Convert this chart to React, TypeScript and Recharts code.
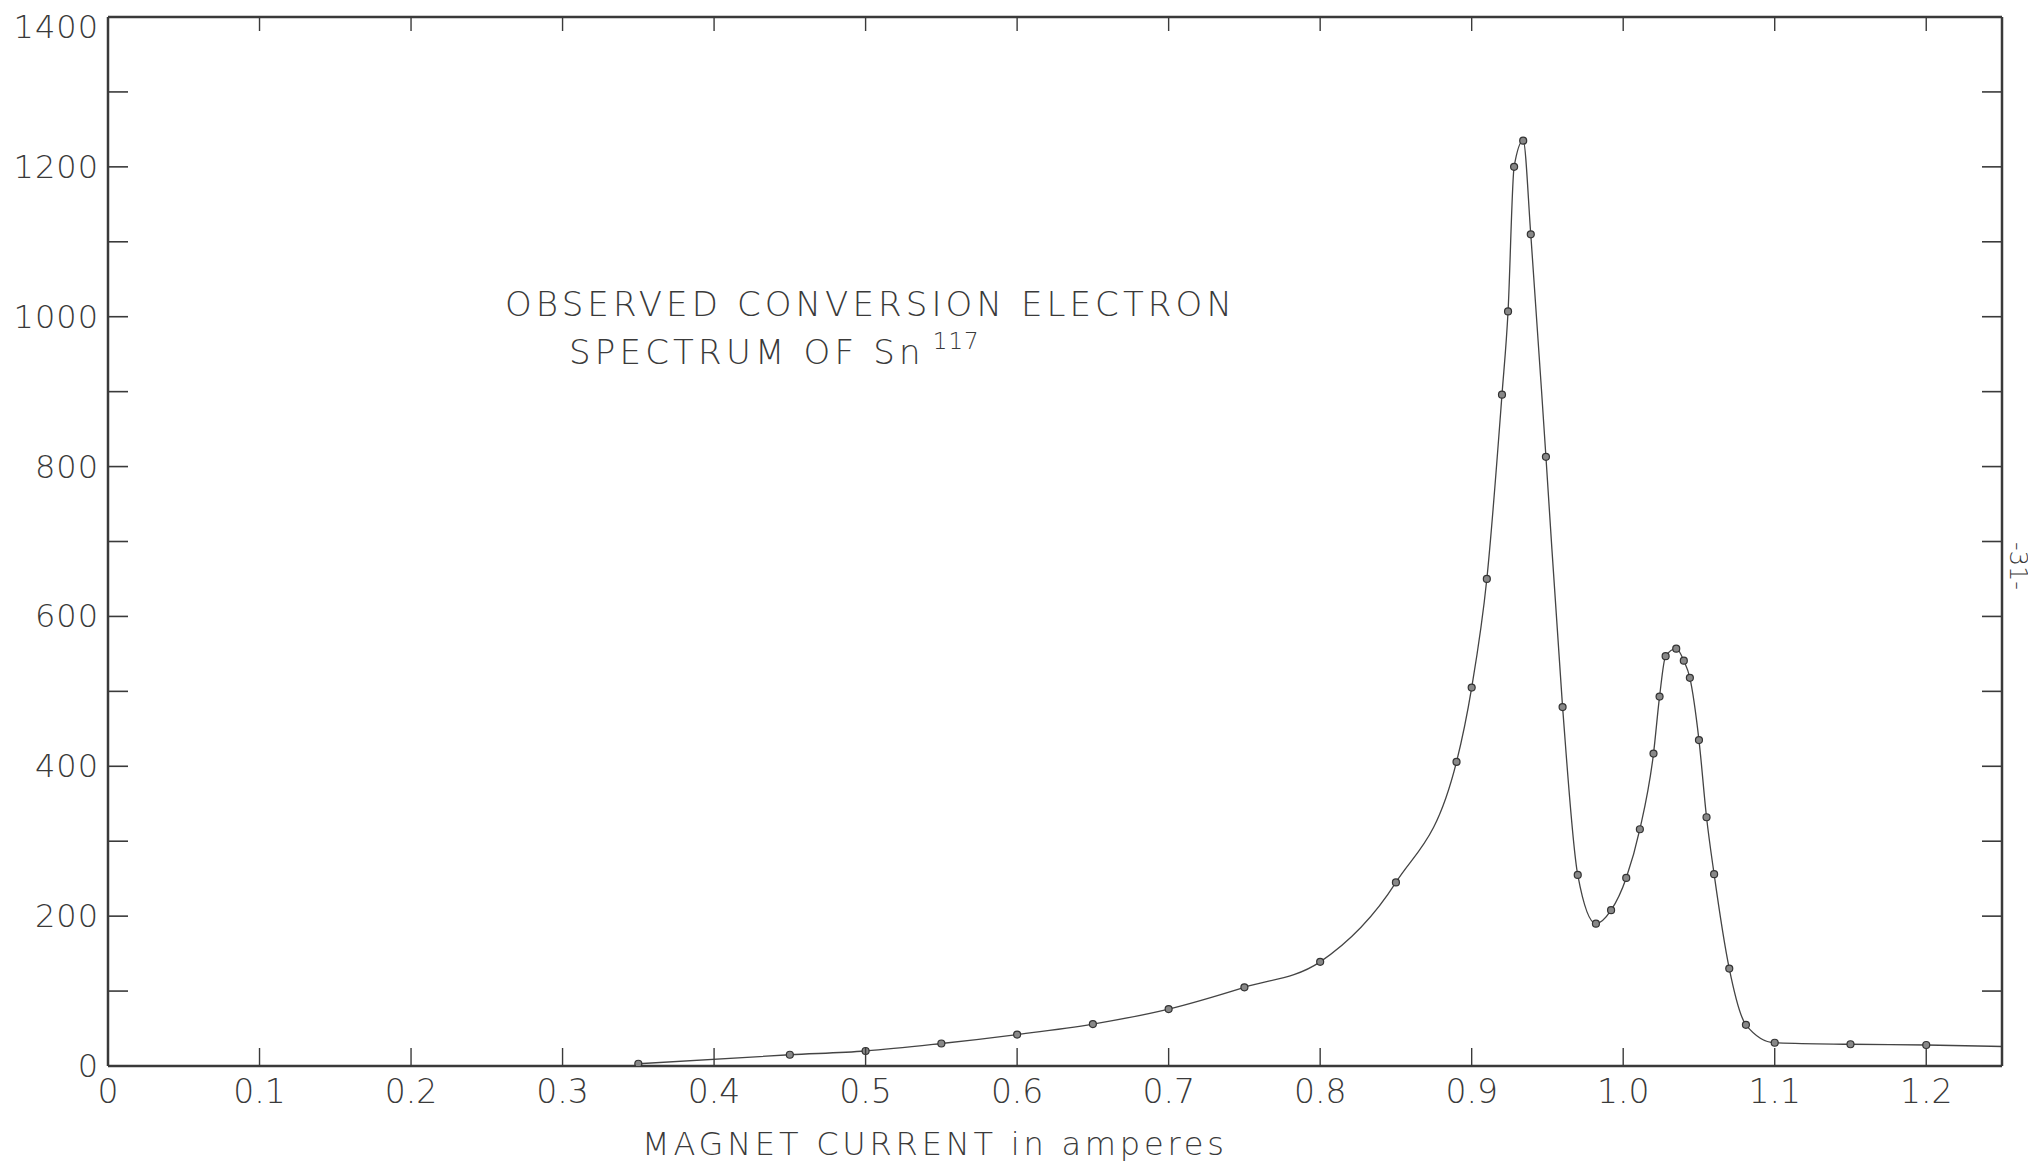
import { Line, LineChart, XAxis, YAxis } from "recharts"

const current = [
  0.35, 0.45, 0.5, 0.55, 0.6, 0.65, 0.7, 0.75, 0.8, 0.85, 0.89, 0.9, 0.91, 0.92, 0.924, 0.928,
  0.934, 0.939, 0.949, 0.96, 0.97, 0.982, 0.992, 1.002, 1.011, 1.02, 1.024, 1.028, 1.035, 1.04,
  1.044, 1.05, 1.055, 1.06, 1.07, 1.081, 1.1, 1.15, 1.2, 1.25,
]
const counts = [
  3, 15, 20, 30, 42, 56, 76, 105, 139, 245, 406, 505, 650, 896, 1007, 1200,
  1235, 1110, 813, 479, 255, 190, 208, 251, 316, 417, 493, 547, 557, 541,
  518, 435, 332, 256, 130, 55, 31, 29, 28, 26,
]

const xTicks = [0, 0.1, 0.2, 0.3, 0.4, 0.5, 0.6, 0.7, 0.8, 0.9, 1.0, 1.1, 1.2]
const xTickLabels = ["0", "0.1", "0.2", "0.3", "0.4", "0.5", "0.6", "0.7", "0.8", "0.9", "1.0", "1.1", "1.2"]
const yTicks = [0, 100, 200, 300, 400, 500, 600, 700, 800, 900, 1000, 1100, 1200, 1300, 1400]

const ink = "#3a3a3a"
const font = "'DejaVu Sans', 'Liberation Sans', sans-serif"

const chartData = current.map((c, i) => ({ current: c, counts: counts[i] }))

function LeftTick({ x, y, payload }: any) {
  const v = payload.value
  // the top label sits a little under the frame corner in the original
  const ty = v === 1400 ? y + 10 : y
  return (
    <g>
      <line x1={x} y1={y} x2={x + 20} y2={y} stroke={ink} strokeWidth={1.6} />
      {v % 200 === 0 && (
        <text x={x - 9} y={ty} textAnchor="end" dominantBaseline="central"
          fontFamily={font} fontWeight={200} fontSize={32} fill={ink} letterSpacing={1}>
          {v}
        </text>
      )}
    </g>
  )
}

function RightTick({ x, y }: any) {
  return <line x1={x} y1={y} x2={x - 20} y2={y} stroke={ink} strokeWidth={1.6} />
}

function BottomTick({ x, y, index }: any) {
  return (
    <g>
      <line x1={x} y1={y} x2={x} y2={y - 18} stroke={ink} strokeWidth={1.4} />
      <text x={x} y={y + 25} textAnchor="middle" dominantBaseline="central"
        fontFamily={font} fontWeight={200} fontSize={33} fill={ink}>
        {xTickLabels[index]}
      </text>
    </g>
  )
}

function TopTick({ x, y }: any) {
  return <line x1={x} y1={y} x2={x} y2={y + 14} stroke={ink} strokeWidth={1.4} />
}

function Dot({ cx, cy, index }: any) {
  if (index === current.length - 1) return <g key={index} />
  return <circle key={index} cx={cx} cy={cy} r={3.5} fill="#888" stroke="#333" strokeWidth={1.2} />
}

export default function App() {
  return (
    <div style={{ position: "absolute", left: 0, top: 0, width: 2028, height: 1164, background: "#fff", color: ink, fontFamily: font }}>
      <LineChart width={2028} height={1164} data={chartData} margin={{ top: 16, right: 25, bottom: 0, left: 0 }}>
        <XAxis
          dataKey="current"
          type="number"
          domain={[0, 1.25]}
          ticks={xTicks}
          interval={0}
          allowDataOverflow
          height={98}
          tickSize={0}
          tickMargin={0}
          tickLine={false}
          tick={BottomTick}
          axisLine={{ stroke: ink, strokeWidth: 2.5 }}
        />
        <XAxis
          xAxisId="top"
          dataKey="current"
          orientation="top"
          type="number"
          domain={[0, 1.25]}
          ticks={xTicks}
          interval={0}
          allowDataOverflow
          height={1}
          tickSize={0}
          tickMargin={0}
          tickLine={false}
          tick={TopTick}
          axisLine={{ stroke: ink, strokeWidth: 2.5 }}
        />
        <YAxis
          type="number"
          domain={[0, 1400]}
          ticks={yTicks}
          interval={0}
          allowDataOverflow
          width={108}
          tickSize={0}
          tickMargin={0}
          tickLine={false}
          tick={LeftTick}
          axisLine={{ stroke: ink, strokeWidth: 2.5 }}
        />
        <YAxis
          yAxisId="right"
          orientation="right"
          type="number"
          domain={[0, 1400]}
          ticks={yTicks}
          interval={0}
          allowDataOverflow
          width={1}
          tickSize={0}
          tickMargin={0}
          tickLine={false}
          tick={RightTick}
          axisLine={{ stroke: ink, strokeWidth: 2.5 }}
        />
        {/* invisible copy so the frame axes (top / right) have a series attached */}
        <Line
          xAxisId="top"
          yAxisId="right"
          dataKey="counts"
          stroke="none"
          dot={false}
          activeDot={false}
          isAnimationActive={false}
        />
        <Line
          type="monotone"
          dataKey="counts"
          stroke="#444"
          strokeWidth={1.3}
          dot={Dot}
          activeDot={false}
          isAnimationActive={false}
        />
      </LineChart>

      <div style={{ position: "absolute", left: 505, top: 285, fontSize: 34, lineHeight: "38px", fontWeight: 200, letterSpacing: 4.1, whiteSpace: "nowrap" }}>
        OBSERVED CONVERSION ELECTRON
      </div>
      <div style={{ position: "absolute", left: 569, top: 333, fontSize: 34, lineHeight: "38px", fontWeight: 200, letterSpacing: 4.2, whiteSpace: "nowrap" }}>
        SPECTRUM OF Sn
        <span style={{ fontSize: 23, position: "relative", top: -15, marginLeft: 8, letterSpacing: 1 }}>117</span>
      </div>
      <div style={{ position: "absolute", left: 642, top: 1126, fontSize: 32, lineHeight: "36px", fontWeight: 200, letterSpacing: 3.8, whiteSpace: "nowrap" }}>
        MAGNET CURRENT in amperes
      </div>
      <div style={{ position: "absolute", left: 1994, top: 556, fontSize: 24, lineHeight: "20px", fontWeight: 200, transform: "rotate(90deg)", whiteSpace: "nowrap" }}>
        -31-
      </div>
    </div>
  )
}
